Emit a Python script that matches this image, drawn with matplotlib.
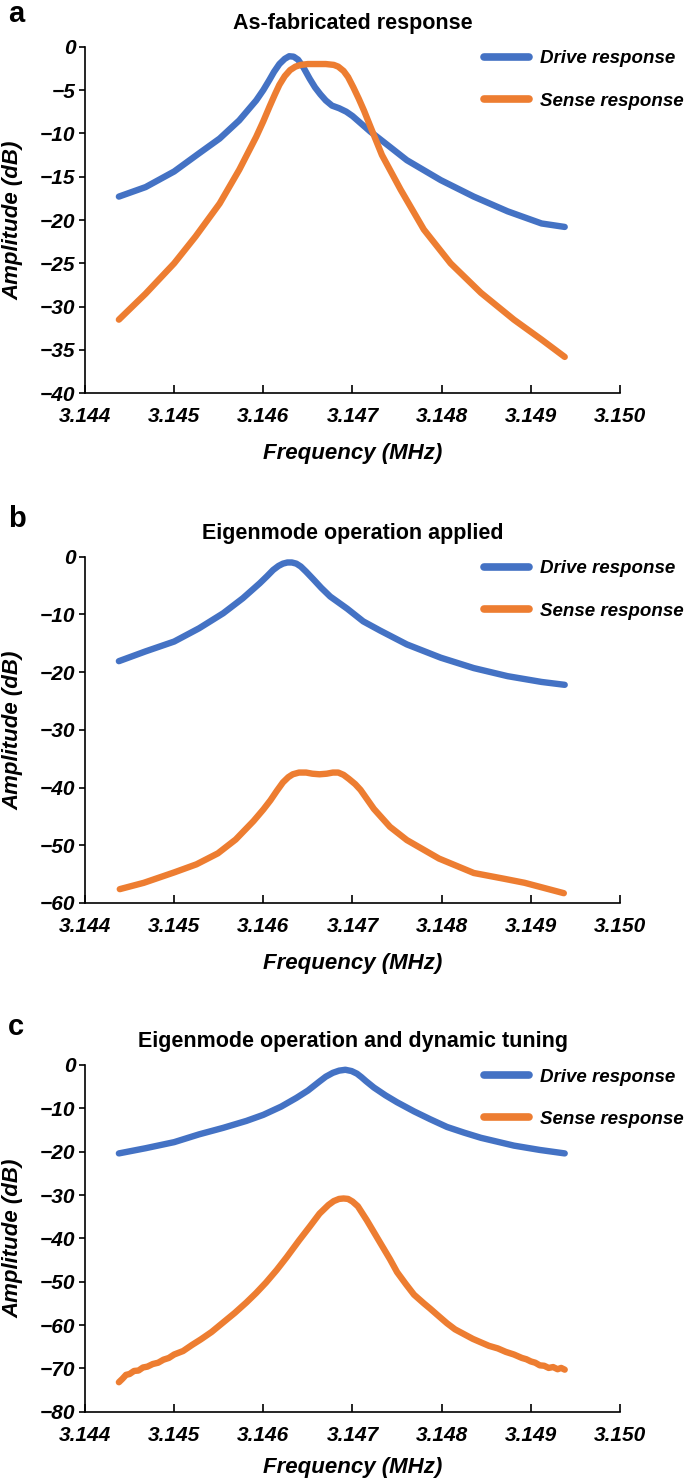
import matplotlib
matplotlib.use("Agg")
import matplotlib.pyplot as plt

plt.rcParams['font.family'] = ['Liberation Sans', 'DejaVu Sans']

# ---------------- data ----------------
freq_drive_a = [3.14438, 3.14468, 3.14500, 3.14528, 3.14551, 3.14573, 3.14592, 3.14600,
                3.14607, 3.14612, 3.14618, 3.14624, 3.14629, 3.14634, 3.14639, 3.14645,
                3.14652, 3.14658, 3.14664, 3.14670, 3.14677, 3.14685, 3.14693, 3.14700,
                3.14710, 3.14720, 3.14735, 3.14761, 3.14799, 3.14836, 3.14874, 3.14912,
                3.14938]
drive_a = [-17.3, -16.2, -14.4, -12.3, -10.6, -8.5, -6.2, -5.0,
           -3.8, -2.9, -2.0, -1.4, -1.1, -1.15, -1.5, -2.4,
           -3.7, -4.7, -5.5, -6.2, -6.8, -7.1, -7.5, -8.0,
           -8.9, -9.8, -11.0, -13.1, -15.4, -17.3, -19.0, -20.4,
           -20.8]

freq_sense_a = [3.14438, 3.14468, 3.14500, 3.14524, 3.14551, 3.14573, 3.14583, 3.14592,
                3.14600, 3.14607, 3.14613, 3.14618, 3.14624, 3.14630, 3.14636, 3.14642,
                3.14650, 3.14660, 3.14670, 3.14679, 3.14684, 3.14690, 3.14695, 3.14701,
                3.14707, 3.14713, 3.14720, 3.14733, 3.14754, 3.14780, 3.14810, 3.14844,
                3.14881, 3.14912, 3.14938]
sense_a = [-31.5, -28.5, -25.0, -21.9, -18.1, -14.2, -12.2, -10.4,
           -8.6, -6.9, -5.5, -4.4, -3.4, -2.7, -2.3, -2.1,
           -2.0, -2.0, -2.0, -2.1, -2.3, -2.8, -3.5, -4.7,
           -6.0, -7.4, -9.2, -12.5, -16.5, -21.1, -25.0, -28.4,
           -31.5, -33.8, -35.8]

freq_drive_b = [3.14438, 3.14468, 3.14500, 3.14528, 3.14555, 3.14577, 3.14596, 3.14604,
                3.14611, 3.14617, 3.14622, 3.14627, 3.14632, 3.14637, 3.14642, 3.14648,
                3.14656, 3.14665, 3.14675, 3.14694, 3.14712, 3.14731, 3.14761, 3.14799,
                3.14836, 3.14874, 3.14912, 3.14938]
drive_b = [-18.1, -16.4, -14.7, -12.4, -9.8, -7.2, -4.6, -3.4,
           -2.3, -1.6, -1.2, -1.0, -1.0, -1.2, -1.7, -2.6,
           -3.9, -5.4, -6.9, -9.0, -11.2, -12.8, -15.2, -17.5,
           -19.3, -20.7, -21.7, -22.2]

freq_sense_b = [3.14439, 3.14466, 3.14500, 3.14525, 3.14549, 3.14569, 3.14589, 3.14600,
                3.14608, 3.14615, 3.14622, 3.14628, 3.14633, 3.14640, 3.14648, 3.14655,
                3.14663, 3.14671, 3.14678, 3.14684, 3.14690, 3.14696, 3.14703, 3.14709,
                3.14724, 3.14742, 3.14761, 3.14797, 3.14836, 3.14870, 3.14893, 3.14937]
sense_b = [-57.6, -56.5, -54.7, -53.3, -51.4, -49.0, -45.8, -43.8,
           -42.2, -40.6, -39.1, -38.2, -37.7, -37.4, -37.4, -37.6,
           -37.7, -37.6, -37.4, -37.4, -37.8, -38.5, -39.4, -40.4,
           -43.7, -46.8, -49.1, -52.3, -54.8, -55.8, -56.5, -58.3]

freq_drive_c = [3.14438, 3.14468, 3.14500, 3.14528, 3.14555, 3.14581, 3.14600, 3.14620,
                3.14637, 3.14650, 3.14663, 3.14670, 3.14678, 3.14685, 3.14692, 3.14699,
                3.14705, 3.14710, 3.14715, 3.14724, 3.14737, 3.14750, 3.14769, 3.14787,
                3.14806, 3.14825, 3.14844, 3.14881, 3.14910, 3.14938]
drive_c = [-20.4, -19.2, -17.8, -16.0, -14.5, -12.9, -11.5, -9.6,
           -7.6, -5.9, -3.8, -2.7, -1.8, -1.3, -1.1, -1.4,
           -2.0, -2.8, -3.7, -5.2, -7.0, -8.6, -10.7, -12.5,
           -14.3, -15.6, -16.8, -18.6, -19.6, -20.4]

freq_sense_c = [3.14438, 3.14442, 3.14446, 3.14450, 3.14455, 3.14460, 3.14465, 3.14470,
                3.14476, 3.14482, 3.14488, 3.14494, 3.14500, 3.14510, 3.14520, 3.14530,
                3.14542, 3.14555, 3.14568, 3.14581, 3.14592, 3.14603, 3.14615, 3.14626,
                3.14640, 3.14652, 3.14663, 3.14673, 3.14679, 3.14685, 3.14690, 3.14695,
                3.14700, 3.14706, 3.14716, 3.14731, 3.14742, 3.14750, 3.14760, 3.14769,
                3.14780, 3.14787, 3.14797, 3.14806, 3.14815, 3.14825, 3.14835, 3.14844,
                3.14853, 3.14863, 3.14872, 3.14881, 3.14890, 3.14895, 3.14900, 3.14905,
                3.14910, 3.14915, 3.14920, 3.14925, 3.14930, 3.14934, 3.14938]
sense_c = [-73.2, -72.4, -71.5, -71.3, -70.6, -70.5, -69.8, -69.6,
           -69.0, -68.7, -68.0, -67.6, -66.8, -66.0, -64.6, -63.3,
           -61.6, -59.4, -57.2, -54.8, -52.6, -50.2, -47.3, -44.4,
           -40.5, -37.3, -34.3, -32.3, -31.4, -30.9, -30.8, -30.9,
           -31.5, -32.6, -35.8, -41.0, -44.8, -47.8, -50.6, -53.0,
           -55.0, -56.2, -58.0, -59.6, -61.0, -62.1, -63.2, -64.0,
           -64.8, -65.4, -66.2, -66.8, -67.6, -67.9, -68.4, -68.7,
           -69.3, -69.4, -69.9, -69.7, -70.2, -69.9, -70.3]

x_ticks = [3.144, 3.145, 3.146, 3.147, 3.148, 3.149, 3.150]
x_tick_labels = ["3.144", "3.145", "3.146", "3.147", "3.148", "3.149", "3.150"]

titles = ["As-fabricated response", "Eigenmode operation applied",
          "Eigenmode operation and dynamic tuning"]
panel_letters = ["a", "b", "c"]
y_limits = [(-40, 0), (-60, 0), (-80, 0)]
y_steps = [5, 10, 10]
legend_labels = ["Drive response", "Sense response"]

# ---------------- style ----------------
BLUE = "#4472C4"
ORANGE = "#ED7D31"
W, H = 685, 1478
fig = plt.figure(figsize=(W / 100, H / 100), dpi=100)

# axes boxes in pixels: (top, bottom)
boxes = [(46.7, 393.3), (556.7, 903.0), (1065.0, 1411.7)]
left_px, right_px = 85.0, 620.0

series = [
    (freq_drive_a, drive_a, freq_sense_a, sense_a),
    (freq_drive_b, drive_b, freq_sense_b, sense_b),
    (freq_drive_c, drive_c, freq_sense_c, sense_c),
]

tick_font = dict(fontsize=15, fontweight="bold", fontstyle="italic")

for i, (top, bot) in enumerate(boxes):
    ax = fig.add_axes([left_px / W, 1 - bot / H, (right_px - left_px) / W, (bot - top) / H])
    fd, d, fs, s = series[i]
    lw = 4.6
    l1, = ax.plot(fd, d, color=BLUE, lw=lw, solid_capstyle="round", solid_joinstyle="round",
                  label=legend_labels[0], zorder=3)
    l2, = ax.plot(fs, s, color=ORANGE, lw=lw, solid_capstyle="round", solid_joinstyle="round",
                  label=legend_labels[1], zorder=3)

    ax.set_xlim(3.144, 3.150)
    lo, hi = y_limits[i]
    ax.set_ylim(lo, hi)
    yt = list(range(lo, hi + 1, y_steps[i]))
    ax.set_yticks(yt)
    ax.set_yticklabels([("\u2212" + str(-v)) if v < 0 else str(v) for v in yt], **tick_font)
    ax.set_xticks(x_ticks)
    ax.set_xticklabels(x_tick_labels, **tick_font)

    for sp in ["top", "right"]:
        ax.spines[sp].set_visible(False)
    for sp in ["left", "bottom"]:
        ax.spines[sp].set_linewidth(1.2)
        ax.spines[sp].set_color("black")
    ax.tick_params(axis="x", direction="in", length=6, width=1.2, pad=10)
    ax.tick_params(axis="y", direction="out", length=4, width=1.2, pad=3)

    ax.set_xlabel("Frequency (MHz)", fontsize=16, fontweight="bold", fontstyle="italic",
                  labelpad=12 if i < 2 else 9)
    ax.set_ylabel("Amplitude (dB)", fontsize=16, fontweight="bold", fontstyle="italic")
    ax.yaxis.set_label_coords(-(85 - 23) / 535, 0.5)
    ax.set_title(titles[i], fontsize=15.5, fontweight="bold", pad=13)

    leg = ax.legend(handles=[l1, l2], loc="upper left",
                    bbox_to_anchor=(0.745, 0.99), frameon=False,
                    prop=dict(family="Liberation Sans", size=13.5, weight="bold", style="italic"),
                    handlelength=2.4, handletextpad=0.6, labelspacing=1.35, borderpad=0,
                    borderaxespad=0)
    for h in leg.legend_handles:
        h.set_linewidth(5.5)
        h.set_solid_capstyle("round")

    if i == 0:
        fig.text(8 / W, 1 - 0.5 / H, panel_letters[i], fontsize=21, fontweight="bold",
                 ha="left", va="top")
    else:
        fig.text(8 / W, 1 - (top - 38) / H, panel_letters[i], fontsize=21, fontweight="bold",
                 ha="left", va="center")

fig.savefig("out.png", dpi=100)
